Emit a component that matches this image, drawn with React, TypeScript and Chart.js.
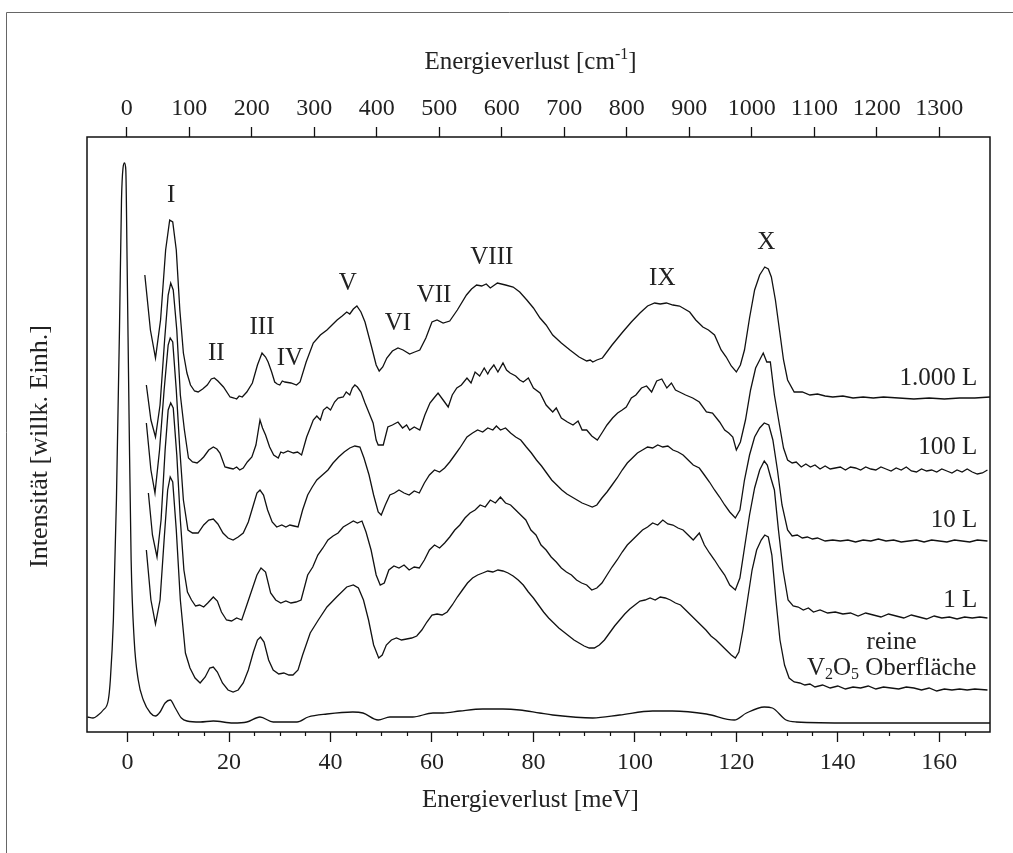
import React, { useEffect, useRef } from "react";
import { Chart, registerables } from "chart.js";
Chart.register(...registerables);

const FONT = '"Liberation Serif", "Times New Roman", serif';

// ---------- x ticks ----------
const bottomTicks = [0, 20, 40, 60, 80, 100, 120, 140, 160];
const minorTicks = [5, 10, 15, 25, 30, 35, 45, 50, 55, 65, 70, 75, 85, 90, 95, 105, 110, 115, 125, 130, 135, 145, 150, 155, 165];
const topTicks = [0, 100, 200, 300, 400, 500, 600, 700, 800, 900, 1000, 1100, 1200, 1300];

// ---------- 1.000 L ----------
const xA = [3.4, 4.5, 5.5, 6.5, 7.5, 8.3, 8.9, 9.6, 10.3, 11, 11.7, 12.4, 13.2, 13.9, 14.8, 15.7, 16.5, 17.1, 17.8, 18.9, 20.2, 21, 21.5, 22, 22.6, 23.5, 24.6, 25.6, 26.5, 27.2, 27.7, 28.4, 29, 29.5, 30, 30.5, 31, 32.2, 33.3, 34, 35.2, 36.6, 38, 39.3, 40.3, 41.3, 42.3, 43.2, 43.8, 44.5, 45.2, 46, 46.8, 48.1, 49, 49.6, 50.3, 51.1, 52.2, 53.3, 54.3, 55.6, 56.6, 57.6, 58.8, 60, 61, 62.2, 63.5, 65, 66.8, 67.8, 68.8, 69.8, 70.7, 71.5, 72.9, 74.5, 76, 77.3, 78.7, 80, 81.3, 82.5, 83.8, 85.5, 87.2, 89, 90.5, 91.2, 91.7, 92.5, 93.6, 95.5, 97.6, 99.3, 101, 102.5, 103.9, 105, 106.2, 107.5, 108.8, 109.8, 110.8, 112, 113.4, 114.5, 115.7, 117, 118, 119, 120, 120.8, 121.6, 122.6, 123.6, 124.6, 125.6, 126.3, 126.9, 127.7, 128.5, 129.3, 130.1, 131.4, 133, 134.5, 136, 137.5, 139, 141, 143, 145, 147, 149, 152, 155, 158, 161, 164, 167, 170];
const yA = [457, 402, 374, 412, 482, 512, 510, 482, 422, 379, 359, 347, 341, 340, 343, 347, 353, 354, 351, 345, 335, 334, 333, 336, 335, 340, 349, 367, 379, 375, 370, 360, 350, 348, 347, 351, 350, 349, 347, 350, 370, 389, 397, 402, 407, 412, 416, 420, 418, 423, 426, 420, 410, 385, 367, 361, 365, 374, 381, 384, 382, 378, 380, 382, 394, 410, 412, 409, 411, 422, 437, 443, 447, 446, 448, 444, 449, 447, 445, 440, 432, 424, 414, 407, 397, 389, 382, 375, 371, 372, 370, 372, 374, 387, 400, 410, 419, 426, 429, 428, 429, 427, 426, 423, 420, 412, 405, 402, 397, 382, 375, 366, 360, 367, 382, 414, 442, 457, 465, 463, 455, 432, 402, 372, 352, 340, 340, 337, 338, 336, 335, 336, 334, 335, 334, 335, 334, 333, 334, 333, 334, 334, 335];

// ---------- 100 L ----------
const xB = [3.7, 4.6, 5.5, 6.4, 7.3, 8, 8.5, 9, 9.7, 10.4, 11.2, 12, 12.8, 13.7, 14.4, 15, 16, 16.9, 17.6, 18.2, 19.2, 20, 20.8, 21.5, 22.1, 22.8, 23.6, 24.5, 25.3, 26.1, 26.6, 27.2, 28, 28.8, 29.7, 30.2, 30.7, 31.6, 32.7, 33.5, 34.3, 35.3, 36, 36.6, 37.3, 38, 38.6, 39.3, 40, 40.8, 41.5, 42.5, 43.1, 43.8, 44.3, 44.8, 45.3, 46, 46.8, 47.6, 48.4, 49, 49.4, 50.4, 51.3, 52.2, 53.3, 54.2, 55, 55.6, 56.5, 57.6, 58.6, 59.6, 60.4, 61.2, 62.2, 63.2, 64, 64.9, 65.8, 66.9, 67.7, 68.5, 69.4, 70.3, 71, 71.4, 72.2, 73, 74, 74.7, 75.4, 76.5, 77.3, 78, 79, 80, 81.3, 82.5, 83.8, 84.5, 85.5, 86.7, 87.8, 88.8, 89.6, 90.5, 91.5, 92.6, 93.5, 94.5, 95.6, 96.6, 97.5, 98.3, 99.3, 100.2, 101.3, 102.3, 103.3, 104.3, 105.3, 106.3, 107.2, 108, 108.8, 110, 111.4, 112.7, 114.1, 115.3, 116.7, 117.7, 118.5, 119.3, 120, 120.8, 121.8, 122.8, 123.8, 124.6, 125.3, 126, 126.7, 127.5, 128.5, 129.3, 130.1, 131, 131.8, 132.8, 133.7, 134.6, 135.5, 136.5, 137.5, 138.5, 139.5, 140.5, 141.5, 142.5, 143.5, 144.5, 145.5, 146.5, 147.5, 148.5, 149.5, 150.5, 151.5, 152.5, 153.5, 154.5, 155.5, 156.5, 157.5, 158.5, 159.5, 160.5, 161.5, 162.5, 163.5, 164.5, 165.5, 166.5, 167.5, 168.5, 169.5];
const yB = [347, 312, 295, 327, 392, 437, 449, 442, 402, 337, 302, 274, 270, 269, 272, 275, 282, 285, 283, 279, 265, 264, 263, 265, 262, 264, 270, 275, 287, 312, 304, 297, 285, 277, 274, 280, 279, 281, 279, 280, 277, 295, 304, 312, 316, 312, 322, 325, 322, 330, 334, 335, 340, 337, 344, 347, 345, 340, 329, 319, 309, 292, 287, 287, 305, 307, 310, 304, 307, 302, 305, 302, 317, 329, 334, 339, 332, 325, 337, 344, 347, 354, 349, 360, 356, 364, 358, 362, 367, 360, 369, 362, 359, 356, 352, 350, 354, 344, 339, 327, 320, 324, 314, 310, 307, 311, 302, 302, 296, 292, 299, 307, 314, 319, 322, 325, 334, 337, 344, 346, 340, 351, 353, 344, 349, 342, 340, 337, 334, 330, 320, 319, 310, 302, 299, 295, 282, 290, 312, 342, 364, 372, 379, 370, 370, 337, 307, 284, 272, 269, 270, 265, 268, 265, 267, 263, 266, 263, 264, 265, 262, 265, 264, 262, 265, 263, 262, 265, 263, 261, 264, 262, 265, 261, 260, 263, 261, 262, 260, 263, 261, 259, 262, 260, 263, 260, 258, 259, 262];

// ---------- 10 L ----------
const xC = [3.7, 4.6, 5.4, 6.3, 7.2, 8, 8.4, 8.9, 9.6, 10.3, 11, 11.9, 12.8, 13.9, 15, 16, 16.9, 17.8, 18.8, 19.8, 20.8, 21.8, 22.8, 23.8, 24.8, 25.5, 26.1, 26.8, 27.6, 28.5, 29.4, 30.4, 31.2, 32, 32.8, 33.6, 34.5, 35.5, 36.4, 37.3, 38.4, 39.5, 40.5, 41.6, 42.7, 43.8, 44.8, 45.8, 46.6, 47.6, 48.5, 49.4, 50, 50.8, 51.7, 52.6, 53.5, 54.5, 55.5, 56.5, 57.5, 58.5, 59.5, 60.5, 61.5, 62.5, 63.5, 64.5, 65.5, 66.9, 68, 69, 70, 71, 72, 72.7, 73.5, 74.5, 75.5, 76.5, 77.5, 78.6, 79.6, 80.6, 81.6, 82.6, 83.6, 84.6, 85.6, 86.6, 87.6, 88.6, 89.6, 90.6, 91.6, 92.5, 93.5, 94.5, 95.5, 96.5, 97.5, 98.5, 99.5, 100.5, 101.5, 102.5, 103.5, 104.5, 105.5, 106.5, 107.5, 108.5, 109.5, 110.5, 111.5, 112.7, 113.7, 114.7, 115.7, 116.7, 117.7, 118.7, 119.8, 120.7, 121.6, 122.6, 123.6, 124.6, 125.5, 126.4, 127.2, 128.1, 129, 130.1, 131, 132, 133, 134, 135, 136, 137.5, 139, 140.5, 142, 143.5, 145, 146.5, 148, 149.5, 151, 152.5, 154, 155.5, 157, 158.5, 160, 161.5, 163, 164.5, 166, 167.5, 169.5];
const yC = [309, 262, 239, 282, 342, 387, 394, 390, 342, 282, 232, 202, 199, 199, 207, 212, 213, 208, 199, 194, 192, 195, 199, 210, 227, 239, 242, 237, 222, 210, 205, 207, 205, 207, 206, 205, 222, 237, 245, 252, 257, 262, 269, 275, 280, 284, 286, 285, 274, 257, 237, 220, 217, 227, 237, 239, 242, 239, 237, 241, 239, 249, 257, 262, 260, 264, 270, 277, 284, 295, 299, 302, 300, 304, 302, 306, 302, 304, 299, 295, 292, 285, 279, 272, 266, 259, 252, 247, 242, 238, 235, 232, 229, 227, 225, 227, 234, 240, 247, 254, 262, 269, 274, 279, 282, 285, 284, 287, 285, 286, 282, 280, 277, 272, 267, 264, 257, 250, 242, 235, 227, 220, 214, 222, 252, 277, 295, 304, 309, 307, 292, 262, 227, 202, 196, 197, 194, 195, 193, 194, 191, 192, 191, 192, 190, 192, 191, 193, 191, 192, 190, 191, 192, 190, 192, 191, 190, 192, 191, 190, 192, 191];

// ---------- 1 L ----------
const xD = [4.1, 4.9, 5.8, 6.6, 7.4, 8, 8.5, 9, 9.7, 10.4, 11.1, 11.8, 12.6, 13.4, 14.2, 15, 15.8, 16.9, 17.7, 18.5, 19.5, 20.5, 21.5, 22.5, 23.5, 24.5, 25.5, 26.3, 27.2, 28.2, 29.2, 30.2, 31.2, 32.2, 33.2, 34.2, 35.5, 36.5, 37.5, 38.5, 39.5, 40.5, 41.5, 42.5, 43.5, 44.5, 45.3, 46.2, 47, 48, 49, 49.8, 50.6, 51.5, 52.5, 53.5, 54.5, 55.5, 56.5, 57.5, 58.5, 59.5, 60.5, 61.5, 62.5, 63.5, 64.5, 65.5, 66.5, 67.5, 68.5, 69.5, 70.5, 71.5, 72.5, 73.5, 74.5, 75.5, 76.5, 77.5, 78.5, 79.5, 80.5, 81.5, 82.5, 83.5, 84.5, 85.5, 86.5, 87.5, 88.5, 89.5, 90.5, 91.5, 92.5, 93.5, 94.5, 95.5, 96.5, 97.5, 98.5, 99.5, 100.5, 101.5, 102.5, 103.5, 104.5, 105.5, 106.5, 107.5, 108.5, 109.5, 110.5, 111.5, 112.7, 113.7, 114.7, 115.7, 116.7, 117.7, 118.7, 119.8, 120.7, 121.6, 122.6, 123.6, 124.6, 125.5, 126.1, 126.8, 127.5, 128.3, 129.2, 130.2, 131.2, 132.2, 133.2, 134.2, 135.2, 136.5, 138, 139.5, 141, 142.5, 144, 145.5, 147, 148.5, 150, 151.5, 153, 154.5, 156, 157.5, 159, 160.5, 162, 163.5, 165, 166.5, 168, 169.5];
const yD = [239, 197, 175, 212, 282, 322, 329, 324, 277, 212, 162, 140, 132, 126, 127, 125, 129, 135, 131, 120, 112, 111, 114, 112, 127, 142, 157, 164, 160, 139, 132, 129, 131, 129, 130, 132, 157, 165, 177, 184, 192, 196, 199, 205, 208, 211, 209, 211, 200, 182, 157, 147, 149, 162, 166, 164, 167, 162, 165, 164, 172, 182, 187, 184, 189, 195, 202, 207, 214, 219, 222, 227, 225, 232, 229, 235, 229, 227, 222, 217, 212, 202, 197, 187, 182, 175, 170, 164, 160, 157, 152, 149, 147, 142, 144, 149, 157, 165, 172, 180, 187, 192, 197, 202, 205, 209, 207, 212, 208, 207, 204, 202, 197, 192, 199, 187, 179, 172, 164, 157, 147, 142, 154, 184, 217, 244, 262, 271, 267, 254, 242, 202, 162, 132, 126, 125, 122, 124, 120, 122, 119, 120, 118, 119, 116, 119, 117, 115, 118, 116, 114, 117, 115, 113, 116, 114, 115, 113, 115, 114, 115, 114];

// ---------- reine V2O5 Oberfläche ----------
const xE = [3.7, 4.6, 5.5, 6.4, 7.2, 7.9, 8.4, 8.9, 9.6, 10.4, 11.4, 12.3, 13.3, 14.3, 15.3, 16.2, 16.9, 17.7, 18.7, 19.8, 20.8, 21.8, 22.8, 23.8, 24.8, 25.6, 26.2, 26.9, 27.8, 28.7, 29.8, 30.8, 31.8, 32.6, 33.6, 34.5, 36, 37.6, 39.3, 41.2, 43.2, 44.5, 45.5, 46.5, 47.5, 48.5, 49.5, 50.2, 51, 52, 53, 54, 55, 56, 57, 58, 59, 60, 61, 62, 63, 64, 65, 66, 67, 68, 69, 70, 71, 72, 73, 74, 75, 76, 77, 78, 79, 80, 81, 82, 83, 84, 85, 86, 87, 88, 89, 90, 91, 92, 93, 94, 95, 96, 97, 98, 99, 100, 101, 102, 103, 104, 105, 106, 107, 108, 109, 110, 111, 112, 113, 114, 115, 116, 117, 118, 119, 119.8, 120.5, 121.3, 122.2, 123.1, 124, 124.9, 125.6, 126.3, 127, 127.8, 128.6, 129.5, 130.4, 131.4, 132.5, 133.5, 134.5, 135.5, 137, 138.5, 140, 141.5, 143, 144.5, 146, 147.5, 149, 150.5, 152, 153.5, 155, 156.5, 158, 159.5, 161, 162.5, 164, 165.5, 167, 169.5];
const yE = [182, 132, 108, 132, 192, 242, 255, 250, 202, 132, 79, 64, 54, 49, 55, 64, 65, 60, 49, 42, 40, 42, 49, 62, 80, 92, 95, 90, 72, 62, 58, 59, 57, 57, 62, 77, 99, 112, 125, 135, 145, 147, 144, 132, 112, 87, 74, 77, 87, 92, 94, 92, 93, 94, 96, 102, 110, 117, 118, 117, 120, 127, 135, 142, 149, 154, 157, 159, 161, 160, 162, 161, 159, 156, 152, 147, 140, 134, 127, 120, 114, 109, 104, 100, 96, 92, 89, 86, 84, 84, 87, 92, 99, 106, 112, 118, 123, 127, 131, 132, 134, 132, 135, 134, 132, 129, 127, 122, 117, 112, 107, 102, 96, 92, 87, 82, 77, 74, 80, 102, 132, 162, 182, 192, 197, 195, 177, 132, 92, 67, 54, 50, 49, 47, 48, 45, 47, 44, 46, 43, 45, 44, 46, 43, 45, 44, 43, 45, 44, 42, 44, 41, 43, 42, 43, 42, 43, 42];

// ---------- unscaled spectrum (elastic peak) ----------
const xF = [-7.9, -6.8, -5.8, -4.8, -3.8, -3.4, -2.8, -2.2, -1.6, -1.2, -0.9, -0.6, -0.35, -0.1, 0.3, 0.7, 1.3, 2.1, 3.1, 4.5, 5.5, 6.4, 7.4, 8.4, 9.4, 10.6, 11.7, 14.3, 16.9, 20.8, 23.5, 26.1, 28.7, 33.4, 35.6, 39.3, 44.4, 46.4, 49.4, 51.7, 56.2, 60.2, 62.2, 65.5, 70, 74, 77.3, 81.2, 83.8, 91.7, 97, 103.5, 107.4, 114.1, 119.6, 122, 125.5, 127.1, 129.8, 131.8, 142.8, 170];
const yF = [15, 14, 17, 22, 32, 52, 112, 232, 402, 532, 564, 569, 562, 472, 312, 172, 92, 52, 32, 19, 16, 20, 29, 32, 24, 14, 11, 10, 11, 9, 10, 15, 10, 10, 15, 18, 20, 19, 12, 15, 15, 19, 19, 21, 23, 23, 22, 19, 17, 14, 17, 21, 21, 18, 12, 19, 25, 24, 12, 10, 9, 9];

// ---------- annotations ----------
const peakNames = ["I", "II", "III", "IV", "V", "VI", "VII", "VIII", "IX", "X"];
const peakAtMeV = [8.6, 17.5, 26.5, 32.0, 43.4, 53.3, 60.4, 71.8, 105.4, 125.9];
const peakAtInt = [537, 379, 405, 374, 449, 409, 437, 475, 454, 490];

const doseNames = ["1.000 L", "100 L", "10 L", "1 L"];
const doseAtInt = [354, 285, 212, 132];
const doseRightMeV = 167.5;

export default function App() {
  const ref = useRef<HTMLCanvasElement>(null);

  useEffect(() => {
    const canvas = ref.current;
    if (!canvas) return;

    const mk = (xs: number[], ys: number[]) => xs.map((x, i) => ({ x, y: ys[i] }));
    const ds = (xs: number[], ys: number[], smooth = false) => ({
      data: mk(xs, ys),
      borderColor: "#111",
      borderWidth: 1.3,
      pointRadius: 0,
      fill: false,
      tension: smooth ? 0.4 : 0,
      cubicInterpolationMode: smooth ? ("monotone" as const) : ("default" as const),
      xAxisID: "x",
      yAxisID: "y",
    });

    const drawRich = (
      ctx: CanvasRenderingContext2D,
      parts: { t: string; s?: "sub" | "sup" }[],
      x: number,
      y: number,
      size: number,
      align: "center" | "right" | "left" = "center"
    ) => {
      const widths = parts.map((p) => {
        ctx.font = `${p.s ? Math.round(size * 0.62) : size}px ${FONT}`;
        return ctx.measureText(p.t).width;
      });
      const total = widths.reduce((a, b) => a + b, 0);
      let cx = align === "center" ? x - total / 2 : align === "right" ? x - total : x;
      ctx.textAlign = "left";
      ctx.textBaseline = "middle";
      parts.forEach((p, i) => {
        ctx.font = `${p.s ? Math.round(size * 0.62) : size}px ${FONT}`;
        const dy = p.s === "sub" ? size * 0.28 : p.s === "sup" ? -size * 0.3 : 0;
        ctx.fillText(p.t, cx, y + dy);
        cx += widths[i];
      });
    };

    const decor = {
      id: "decor",
      afterDraw(chart: any) {
        const ctx: CanvasRenderingContext2D = chart.ctx;
        const { left, right, top, bottom } = chart.chartArea;
        const sx = chart.scales.x;
        const sy = chart.scales.y;
        ctx.save();
        // outer frame of the figure
        ctx.strokeStyle = "#666";
        ctx.lineWidth = 1;
        ctx.beginPath();
        ctx.moveTo(6.5, 853);
        ctx.lineTo(6.5, 12.5);
        ctx.lineTo(1013, 12.5);
        ctx.stroke();
        // plot box
        ctx.strokeStyle = "#111";
        ctx.lineWidth = 1.5;
        ctx.strokeRect(left, top, right - left, bottom - top);
        // minor ticks
        ctx.lineWidth = 1.2;
        ctx.beginPath();
        minorTicks.forEach((v) => {
          const px = Math.round(sx.getPixelForValue(v)) + 0.5;
          ctx.moveTo(px, bottom);
          ctx.lineTo(px, bottom + 4);
        });
        ctx.stroke();
        // peak labels
        ctx.fillStyle = "#222";
        ctx.font = `25px ${FONT}`;
        ctx.textAlign = "center";
        ctx.textBaseline = "middle";
        peakNames.forEach((n, i) => {
          ctx.fillText(n, sx.getPixelForValue(peakAtMeV[i]), sy.getPixelForValue(peakAtInt[i]));
        });
        // dose labels
        ctx.textAlign = "right";
        doseNames.forEach((n, i) => {
          ctx.fillText(n, sx.getPixelForValue(doseRightMeV), sy.getPixelForValue(doseAtInt[i]));
        });
        const cxLab = sx.getPixelForValue(150.6);
        ctx.textAlign = "center";
        ctx.fillText("reine", cxLab, sy.getPixelForValue(90));
        drawRich(ctx, [{ t: "V" }, { t: "2", s: "sub" }, { t: "O" }, { t: "5", s: "sub" }, { t: " Oberfläche" }], cxLab, sy.getPixelForValue(64), 25);
        // axis titles
        const midX = (left + right) / 2;
        ctx.fillStyle = "#222";
        drawRich(ctx, [{ t: "Energieverlust [meV]" }], midX - 8, bottom + 68, 25);
        drawRich(ctx, [{ t: "Energieverlust [cm" }, { t: "-1", s: "sup" }, { t: "]" }], midX - 8, top - 75, 25);
        ctx.save();
        ctx.translate(left - 47, (top + bottom) / 2 + 12);
        ctx.rotate(-Math.PI / 2);
        drawRich(ctx, [{ t: "Intensität [willk. Einh.]" }], 0, 0, 26);
        ctx.restore();
        ctx.restore();
      },
    };

    const tickFont = { family: FONT, size: 24 };
    const plainLabel = (v: any) => String(v);
    const chart = new Chart(canvas, {
      type: "line",
      data: {
        datasets: [
          ds(xF, yF, true),
          ds(xE, yE),
          ds(xD, yD),
          ds(xC, yC),
          ds(xB, yB),
          ds(xA, yA),
        ] as any,
      },
      options: {
        animation: false,
        responsive: false,
        maintainAspectRatio: false,
        events: [],
        layout: { padding: { left: 87, right: 23, top: 97, bottom: 81 } },
        plugins: { legend: { display: false }, tooltip: { enabled: false } },
        scales: {
          x: {
            type: "linear",
            position: "bottom",
            min: -8,
            max: 170,
            afterBuildTicks: (s: any) => {
              s.ticks = bottomTicks.map((v) => ({ value: v }));
            },
            afterFit: (s: any) => {
              s.height = 40;
            },
            grid: { drawOnChartArea: false, drawTicks: true, tickLength: 10, tickColor: "#111", tickWidth: 1.3 },
            border: { display: false },
            ticks: { font: tickFont, color: "#222", padding: 6, maxRotation: 0, autoSkip: false, callback: plainLabel },
          },
          x2: {
            type: "linear",
            position: "top",
            min: -63.5,
            max: 1381,
            afterBuildTicks: (s: any) => {
              s.ticks = topTicks.map((v) => ({ value: v }));
            },
            afterFit: (s: any) => {
              s.height = 40;
            },
            grid: { drawOnChartArea: false, drawTicks: true, tickLength: 10, tickColor: "#111", tickWidth: 1.3 },
            border: { display: false },
            ticks: { font: tickFont, color: "#222", padding: 4, maxRotation: 0, autoSkip: false, callback: plainLabel },
          },
          y: { display: false, min: 0, max: 595 },
        },
      } as any,
      plugins: [decor],
    });
    return () => chart.destroy();
  }, []);

  return (
    <div style={{ position: "fixed", left: 0, top: 0, width: 1013, height: 853, background: "#fff", overflow: "hidden" }}>
      <canvas ref={ref} width={1013} height={853} style={{ display: "block", width: 1013, height: 853 }} />
    </div>
  );
}
